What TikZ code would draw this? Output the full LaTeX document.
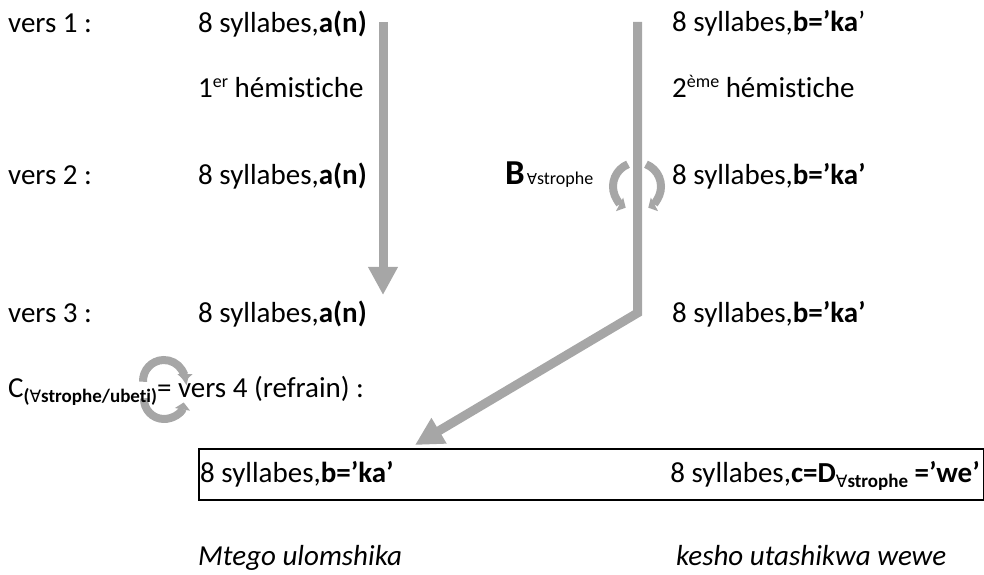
\documentclass[tikz,border=0pt]{standalone}
\usepackage{fontspec}
\setmainfont{Carlito}[Ligatures={NoCommon}]
\newfontfamily\symf{DejaVu Sans}
\usetikzlibrary{arrows.meta,calc}
\definecolor{arrowgray}{RGB}{166,166,166}
\newcommand{\supx}[1]{\raisebox{10bp}{\fontsize{18bp}{20bp}\selectfont #1}}
\newcommand{\fa}{{\symf\mdseries\fontsize{17bp}{20bp}\selectfont ∀}}
\tikzset{
  txt/.style={anchor=base west, inner sep=0pt, font=\fontsize{29bp}{35bp}\selectfont},
  bigarrow/.style={draw=arrowgray, line width=9bp, -{Triangle[length=28bp,width=28bp]}},
  smallarrow/.style={draw=arrowgray, line width=8bp, -{Triangle[length=7bp,width=15bp]}},
  boxstyle/.style={draw=black, line width=1.8bp, anchor=north west, inner sep=0pt, minimum width=785bp, minimum height=51bp},
}
\begin{document}
\begin{tikzpicture}[x=1bp,y=-1bp]
\useasboundingbox (0,0) rectangle (984,575);
% main arrows
\coordinate (L1) at (383,22);
\coordinate (L2) at (383,295);
\draw[bigarrow] (L1) -- (L2);
\coordinate (R1) at (637.5,22);
\coordinate (R2) at (637.5,313);
\coordinate (R3) at (415,445);
\draw[bigarrow, line join=miter] (R1) -- (R2) -- (R3);
% B arcs
\coordinate (bc) at (637,186.5);
\draw[smallarrow] ($(bc)+(248:24)$) arc[start angle=248, end angle=118, radius=24];
\draw[smallarrow] ($(bc)+(-68:24)$) arc[start angle=-68, end angle=62, radius=24];
% C arcs
\coordinate (ct) at (164,381);
\coordinate (cb) at (164,399);
\draw[smallarrow] ($(ct)+(178:21)$) arc[start angle=178, end angle=360, radius=21];
\draw[smallarrow] ($(cb)+(182:20)$) arc[start angle=182, end angle=10, radius=20];
% texts
\node[txt] (v1) at (8,33) {vers 1 :};
\node[txt] (a1) at (198,33) {8 syllabes,\textbf{a(n)}};
\node[txt] (h1) at (198,98) {1\supx{er} hémistiche};
\node[txt] (v2) at (8,185) {vers 2 :};
\node[txt] (a2) at (198,185) {8 syllabes,\textbf{a(n)}};
\node[txt] (v3) at (8,322) {vers 3 :};
\node[txt] (a3) at (198,322) {8 syllabes,\textbf{a(n)}};
\node[txt] (b1) at (672,32) {8 syllabes,\textbf{b=’ka}’};
\node[txt] (h2) at (672,98) {2\supx{ème} hémistiche};
\node[txt] (b2) at (672,185) {8 syllabes,\textbf{b=’ka’}};
\node[txt] (b3) at (672,322) {8 syllabes,\textbf{b=’ka’}};
\node[txt] (Bl) at (505,185) {{\fontsize{35bp}{40bp}\selectfont\bfseries B}\hspace{2bp}{\fontsize{18bp}{20bp}\selectfont{\symf\fontsize{15bp}{18bp}\selectfont ∀}strophe}};
\node[txt] (c4) at (8,397) {C\raisebox{-5bp}{\fontsize{19bp}{22bp}\selectfont\bfseries(\fa strophe/ubeti)}= vers 4 (refrain) :};
% box
\node[boxstyle] (box) at (198,448) {};
\node[txt] (k1) at (200,482) {8 syllabes,\textbf{b=’ka’}};
\node[txt, anchor=base east] (k2) at (980,482) {8 syllabes,\textbf{c=D}\raisebox{-5bp}{\fontsize{19bp}{22bp}\selectfont\bfseries\fa strophe} \textbf{=’we’}};
% italic line
\node[txt] (m1) at (198,565) {\itshape Mtego ulomshika};
\node[txt] (m2) at (676,565) {\itshape kesho utashikwa wewe};
\end{tikzpicture}
\end{document}
